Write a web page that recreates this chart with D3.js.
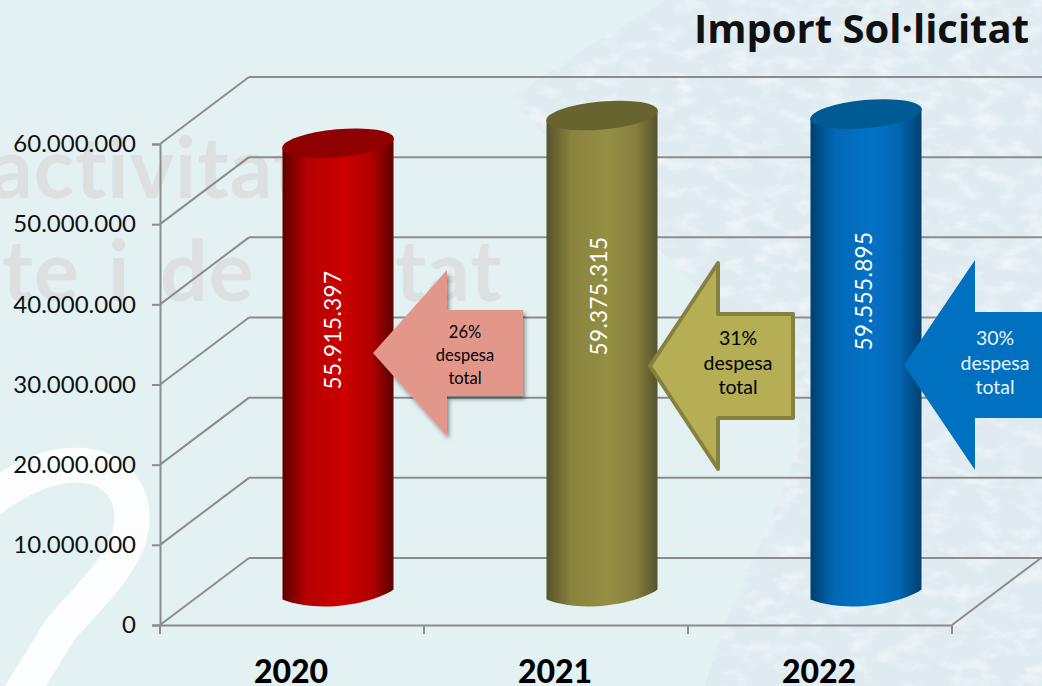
<!DOCTYPE html>
<html>
<head>
<meta charset="utf-8">
<script src="https://cdn.jsdelivr.net/npm/d3@7"></script>
<style>
html, body { margin: 0; padding: 0; background: #e3f1f3; overflow: hidden; }
text { font-family: Lato, "Open Sans", sans-serif; }
</style>
</head>
<body>
<script>
// Data
var years = ['2020', '2021', '2022'];
var amounts = [55915397, 59375315, 59555895];
var amountLabels = ['55.915.397', '59.375.315', '59.555.895'];
var shares = ['26%', '31%', '30%'];
var yTicks = [0, 10000000, 20000000, 30000000, 40000000, 50000000, 60000000];
var barColors = [
    {dark: '#5e0000', mid: '#cc0000', top: '#8f0000'},
    {dark: '#57532a', mid: '#958f43', top: '#68642f'},
    {dark: '#003f70', mid: '#0272c6', top: '#005a94'}
];
var arrowStyles = [
    {fill: '#e3978b', stroke: 'none', text: '#000', size: 16.5, shadow: true},
    {fill: '#b5ae55', stroke: '#87813f', text: '#000', size: 19.5, shadow: false},
    {fill: '#0070c0', stroke: 'none', text: '#e8f4fb', size: 19.5, shadow: false}
];

var width = 1042, height = 686;
var svg = d3.select('body').append('svg')
    .attr('width', width)
    .attr('height', height)
    .style('display', 'block');

var defs = svg.append('defs');

// Scales: the floor of the box runs from the front axis, depth goes up and right
var x = d3.scaleBand().domain(years).range([160, 952]).padding(0);
var y = d3.scaleLinear().domain([0, 60000000]).range([625, 144]);
var depthX = 89, depthY = -67;

// Background ---------------------------------------------------------
svg.append('rect').attr('width', width).attr('height', height).attr('fill', '#e3f1f3');

// aerial photo watermark on the right
var photoFilter = defs.append('filter').attr('id', 'photo').attr('x', 0).attr('y', 0).attr('width', 1).attr('height', 1);
photoFilter.append('feTurbulence')
    .attr('type', 'fractalNoise').attr('baseFrequency', '0.04 0.07').attr('numOctaves', 4).attr('seed', 7);
photoFilter.append('feColorMatrix')
    .attr('values', '0 0 0 0 1  0 0 0 0 1  0 0 0 0 1  2.2 0 0 0 -1.0');
defs.append('clipPath').attr('id', 'photoClip').append('path')
    .attr('d', 'M665,0 L1042,0 L1042,686 L705,686 C730,590 790,500 800,430 C790,380 740,340 690,280 C630,220 560,150 510,100 C560,60 620,30 665,0 Z');
var photo = svg.append('g').attr('clip-path', 'url(#photoClip)');
photo.append('rect').attr('width', width).attr('height', height).attr('fill', '#dfebf0');
photo.append('rect').attr('width', width).attr('height', height).attr('filter', 'url(#photo)').attr('opacity', 0.6);

// big white swoosh, bottom left
svg.append('path')
    .attr('d', 'M-10,500 C20,478 50,465 75,465 C115,465 133,490 132,522 C130,560 90,595 60,630 L20,695')
    .attr('fill', 'none').attr('stroke', '#fff').attr('stroke-width', 35).attr('opacity', 0.85);

// grey words behind the chart
var ghost = svg.append('g').attr('fill', '#dedfe0').attr('font-weight', 700).attr('font-size', 84).attr('letter-spacing', 1);
ghost.append('text').attr('x', -10).attr('y', 198).text('activitat');
ghost.append('text').attr('x', 2).attr('y', 301).text('te');
ghost.append('text').attr('x', 108).attr('y', 301).text('i');
ghost.append('text').attr('x', 160).attr('y', 301).text('de');
ghost.append('text').attr('x', 395).attr('y', 301).text('tat');

// 3D box -------------------------------------------------------------
var grid = svg.append('g').attr('fill', 'none').attr('stroke', '#8c8c8c').attr('stroke-width', 2);

// depth lines on the left wall, back wall lines
yTicks.forEach(function(t) {
    grid.append('line')
        .attr('x1', x.range()[0]).attr('y1', y(t))
        .attr('x2', x.range()[0] + depthX).attr('y2', y(t) + depthY);
    grid.append('line')
        .attr('x1', x.range()[0] + depthX).attr('y1', y(t) + depthY)
        .attr('x2', width).attr('y2', y(t) + depthY);
});
// right edge of the floor
grid.append('line')
    .attr('x1', x.range()[1]).attr('y1', y(0))
    .attr('x2', x.range()[1] + depthX).attr('y2', y(0) + depthY);

// Axes
var yAxis = d3.axisLeft(y).tickValues(yTicks).tickSize(8)
    .tickFormat(function(d) { return d3.format(',')(d).replace(/,/g, '.'); });
var gy = svg.append('g').attr('transform', 'translate(' + x.range()[0] + ',0)').call(yAxis);
gy.selectAll('path, line').attr('stroke', '#8c8c8c').attr('stroke-width', 2);
gy.selectAll('text').attr('font-size', 24).attr('fill', '#111').attr('x', -24);

var xAxis = d3.axisBottom(x).tickValues([]).tickSizeOuter(0);
var gx = svg.append('g').attr('transform', 'translate(0,' + y(0) + ')').call(xAxis);
gx.select('path').attr('stroke', '#8c8c8c').attr('stroke-width', 2);
// tick marks sit between the categories
gx.selectAll('.sep').data(d3.range(years.length + 1)).enter().append('line')
    .attr('class', 'sep')
    .attr('x1', function(i) { return x.range()[0] + i * x.step(); })
    .attr('x2', function(i) { return x.range()[0] + i * x.step(); })
    .attr('y1', 0).attr('y2', 9)
    .attr('stroke', '#8c8c8c').attr('stroke-width', 2);

svg.selectAll('.year').data(years).enter().append('text')
    .attr('class', 'year')
    .attr('x', function(d) { return x(d) + x.bandwidth() / 2 - 1; })
    .attr('y', 683)
    .attr('text-anchor', 'middle')
    .attr('font-size', 32).attr('font-weight', 900).attr('fill', '#000')
    .text(function(d) { return d; });

// Cylinders ----------------------------------------------------------
var barHalf = 55.5, tiltDeg = -5.2, ry = 14;

years.forEach(function(year, i) {
    var shade = d3.interpolateRgb(barColors[i].dark, barColors[i].mid);
    var grad = defs.append('linearGradient').attr('id', 'bar' + i);
    grad.append('stop').attr('offset', '0%').attr('stop-color', barColors[i].dark);
    grad.append('stop').attr('offset', '22%').attr('stop-color', shade(0.8));
    grad.append('stop').attr('offset', '55%').attr('stop-color', barColors[i].mid);
    grad.append('stop').attr('offset', '80%').attr('stop-color', shade(0.75));
    grad.append('stop').attr('offset', '100%').attr('stop-color', barColors[i].dark);
});

var bars = svg.selectAll('.bar').data(years).enter().append('g').attr('class', 'bar');

function cx(year) { return x(year) + x.bandwidth() / 2 + depthX / 2 + 1.5; }
function topY(i) { return y(amounts[i]) + depthY / 2; }
var baseY = y(0) + depthY / 2 + 3;
var slope = Math.tan(tiltDeg * Math.PI / 180);

bars.append('path')
    .attr('fill', function(d, i) { return 'url(#bar' + i + ')'; })
    .attr('d', function(d, i) {
        var c = cx(d), l = c - barHalf, r = c + barHalf;
        var t = topY(i);
        return 'M' + l + ',' + (t - slope * barHalf) +
            ' L' + r + ',' + (t + slope * barHalf) +
            ' L' + r + ',' + (baseY + slope * barHalf) +
            ' C' + (r - 18) + ',' + (baseY + 8) + ' ' + (l + 38) + ',' + (baseY + 20) + ' ' + l + ',' + (baseY - slope * barHalf) + ' Z';
    });

bars.append('ellipse')
    .attr('cx', 0).attr('cy', 0)
    .attr('rx', barHalf + 0.5).attr('ry', ry)
    .attr('fill', function(d, i) { return barColors[i].top; })
    .attr('transform', function(d, i) {
        return 'translate(' + cx(d) + ',' + topY(i) + ') rotate(' + tiltDeg + ')';
    });

// value written up the cylinder
var labelY = [330, 296, 291];
var labelShift = [-3, -1, 0];
bars.append('text')
    .attr('transform', function(d, i) { return 'translate(' + (cx(d) + labelShift[i]) + ',' + labelY[i] + ') rotate(-90)'; })
    .attr('text-anchor', 'middle')
    .attr('dominant-baseline', 'middle')
    .attr('font-size', 22.5).attr('letter-spacing', 0.4)
    .attr('fill', '#fff')
    .text(function(d, i) { return amountLabels[i]; });

// Arrow callouts -----------------------------------------------------
var shadow = defs.append('filter').attr('id', 'shadow').attr('x', '-20%').attr('y', '-20%').attr('width', '140%').attr('height', '140%');
shadow.append('feDropShadow').attr('dx', 2).attr('dy', 3).attr('stdDeviation', 2).attr('flood-color', '#000').attr('flood-opacity', 0.45);

var arrowBox = [
    {tip: 373, neck: 447, right: 523, cy: 353, bodyHalf: 43, headHalf: 83},
    {tip: 650, neck: 718, right: 793, cy: 366, bodyHalf: 52, headHalf: 103},
    {tip: 904, neck: 975, right: 1050, cy: 365, bodyHalf: 53, headHalf: 105}
];
var textX = [465, 738, 995];
var lineGap = [23, 24.5, 24.5];
var firstLine = [338, 345, 345];

var arrows = svg.selectAll('.arrow').data(arrowBox).enter().append('g').attr('class', 'arrow');
arrows.append('path')
    .attr('d', function(a) {
        return 'M' + a.tip + ',' + a.cy +
            ' L' + a.neck + ',' + (a.cy - a.headHalf) +
            ' L' + a.neck + ',' + (a.cy - a.bodyHalf) +
            ' L' + a.right + ',' + (a.cy - a.bodyHalf) +
            ' L' + a.right + ',' + (a.cy + a.bodyHalf) +
            ' L' + a.neck + ',' + (a.cy + a.bodyHalf) +
            ' L' + a.neck + ',' + (a.cy + a.headHalf) + ' Z';
    })
    .attr('fill', function(a, i) { return arrowStyles[i].fill; })
    .attr('stroke', function(a, i) { return arrowStyles[i].stroke; })
    .attr('stroke-width', 4)
    .attr('stroke-linejoin', 'round')
    .attr('filter', function(a, i) { return arrowStyles[i].shadow ? 'url(#shadow)' : null; });

arrows.each(function(a, i) {
    var lines = [shares[i], 'despesa', 'total'];
    d3.select(this).selectAll('text').data(lines).enter().append('text')
        .attr('x', textX[i])
        .attr('y', function(d, k) { return firstLine[i] + k * lineGap[i]; })
        .attr('text-anchor', 'middle')
        .attr('font-size', arrowStyles[i].size)
        .attr('fill', arrowStyles[i].text)
        .text(function(d) { return d; });
});

// Title (style, because the stylesheet font rule beats an attribute)
svg.append('text')
    .attr('x', 1029).attr('y', 43)
    .attr('text-anchor', 'end')
    .style('font-family', '"Open Sans", sans-serif')
    .attr('font-size', 40).attr('font-weight', 700).attr('fill', '#111')
    .text('Import Sol·licitat');
</script>
</body>
</html>
